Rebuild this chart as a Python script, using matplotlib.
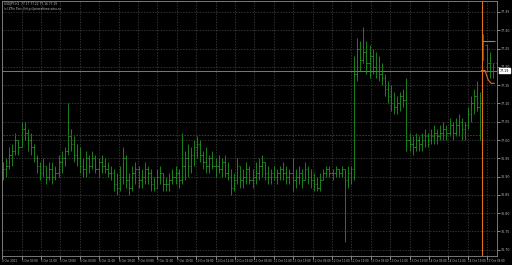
import matplotlib
matplotlib.use("Agg")
import matplotlib.pyplot as plt
import numpy as np

# OHLC bars (open = previous close)
highs = [
    76.94, 76.95, 76.98, 76.99,
    77.02, 77.00, 77.05, 77.05,
    77.03, 77.02,
    76.99, 76.96, 76.94,
    76.95, 76.93, 76.94, 76.94, 76.93, 76.96, 76.97,
    76.98, 77.10, 77.03,
    77.01, 76.99, 76.98,
    76.95, 76.97, 76.96, 76.97, 76.96, 76.95, 76.96, 76.95, 76.94, 76.93,
    76.92, 76.91, 76.93, 76.98, 76.96, 76.91, 76.93, 76.94, 76.93,
    76.92, 76.94, 76.93, 76.92, 76.90, 76.92, 76.93, 76.91, 76.90, 76.91,
    76.92, 76.93, 76.92, 77.02,
    76.97, 76.99, 76.98, 77.00, 77.01, 77.00,
    76.97, 76.98, 76.96, 76.97, 76.95, 76.96, 76.95, 76.96, 76.94,
    76.92, 76.91,
    76.95, 76.93, 76.92, 76.94, 76.93, 76.92, 76.94, 76.95, 76.96, 76.94, 76.93,
    76.92, 76.93, 76.92, 76.93, 76.94, 76.93, 76.92, 76.95, 76.92, 76.93, 76.92,
    76.94, 76.93, 76.92, 76.91, 76.90, 76.91,
    76.92, 76.93, 76.93, 76.92, 76.93, 76.92, 76.93,
    76.92, 76.93, 76.93, 77.23,
    77.28, 77.27, 77.31, 77.27, 77.26, 77.25,
    77.24, 77.23, 77.21,
    77.18, 77.16, 77.15, 77.13, 77.12,
    77.13, 77.14, 77.17,
    77.02, 77.01, 77.02, 77.01, 77.02, 77.03, 77.02,
    77.03, 77.04, 77.03, 77.04, 77.05, 77.04, 77.06, 77.05, 77.06, 77.07,
    77.06, 77.05,
    77.09, 77.12, 77.14, 77.16,
    77.13, 77.29, 77.26, 77.24, 77.21,
]
lows = [
    76.89, 76.90, 76.92, 76.93,
    76.96, 76.96, 76.98, 77.00,
    76.97, 76.96,
    76.94, 76.91, 76.89,
    76.90, 76.88, 76.89, 76.88, 76.89, 76.90, 76.91,
    76.93, 76.96, 76.97,
    76.94, 76.93, 76.91,
    76.90, 76.90, 76.91, 76.92, 76.91, 76.90, 76.91, 76.91, 76.90, 76.89,
    76.86, 76.85, 76.86, 76.88, 76.87, 76.85, 76.86, 76.88, 76.87,
    76.87, 76.88, 76.88, 76.86, 76.86, 76.87, 76.88, 76.86, 76.86, 76.86,
    76.88, 76.88, 76.87, 76.88,
    76.89, 76.90, 76.91, 76.93, 76.95, 76.94,
    76.92, 76.91, 76.91, 76.92, 76.90, 76.91, 76.90, 76.90, 76.89,
    76.85, 76.86,
    76.88, 76.87, 76.87, 76.88, 76.88, 76.87, 76.88, 76.89, 76.90, 76.89, 76.88,
    76.88, 76.89, 76.88, 76.89, 76.89, 76.88, 76.88, 76.86, 76.87, 76.88, 76.87,
    76.89, 76.88, 76.87, 76.86, 76.86, 76.86,
    76.89, 76.90, 76.90, 76.89, 76.90, 76.90, 76.90,
    76.72, 76.87, 76.88, 76.89,
    77.16, 77.19, 77.21, 77.18, 77.17, 77.18,
    77.17, 77.16, 77.15,
    77.12, 77.10, 77.08, 77.07, 77.07,
    77.08, 77.09, 76.97,
    76.97, 76.96, 76.97, 76.97, 76.97, 76.98, 76.98,
    76.99, 76.99, 76.99, 77.00, 77.00, 77.00, 77.01, 77.00, 77.01, 77.01,
    77.00, 77.00,
    77.03, 77.05, 77.07, 77.08,
    77.00, 77.22, 77.19, 77.17, 77.17,
]
closes = [
    76.92, 76.93, 76.96, 76.97,
    77.00, 76.98, 77.03, 77.02,
    77.00, 76.98,
    76.95, 76.93, 76.91,
    76.93, 76.90, 76.92, 76.90, 76.91, 76.94, 76.95,
    76.97, 77.01, 76.99,
    76.96, 76.95, 76.93,
    76.92, 76.95, 76.93, 76.95, 76.92, 76.94, 76.93, 76.92, 76.91, 76.91,
    76.88, 76.87, 76.90, 76.95, 76.89, 76.87, 76.91, 76.92, 76.89,
    76.90, 76.92, 76.91, 76.88, 76.87, 76.90, 76.91, 76.88, 76.88, 76.89,
    76.90, 76.91, 76.89, 76.93,
    76.95, 76.93, 76.96, 76.98, 76.99, 76.96,
    76.94, 76.93, 76.95, 76.93, 76.93, 76.92, 76.94, 76.91, 76.90,
    76.87, 76.89,
    76.93, 76.89, 76.90, 76.92, 76.89, 76.90, 76.91, 76.93, 76.94, 76.91, 76.90,
    76.91, 76.90, 76.91, 76.92, 76.91, 76.90, 76.91, 76.89, 76.90, 76.91, 76.89,
    76.92, 76.90, 76.89, 76.88, 76.87, 76.89,
    76.91, 76.92, 76.91, 76.91, 76.92, 76.91, 76.92,
    76.89, 76.91, 76.92, 77.18,
    77.25, 77.22, 77.24, 77.21, 77.23, 77.20,
    77.19, 77.18, 77.17,
    77.14, 77.12, 77.10, 77.09, 77.10,
    77.12, 77.11, 77.00,
    76.99, 76.98, 77.00, 76.99, 77.00, 77.01, 77.00,
    77.01, 77.02, 77.01, 77.02, 77.03, 77.02, 77.04, 77.02, 77.04, 77.05,
    77.03, 77.04,
    77.07, 77.10, 77.12, 77.09,
    77.10, 77.27, 77.21, 77.19, 77.19,
]
first_open = 76.91

price_ticks = [76.70, 76.75, 76.80, 76.85, 76.90, 76.95, 77.00,
               77.05, 77.10, 77.15, 77.20, 77.25, 77.30, 77.35]
date_labels = [
    "4 Oct 2011", "5 Oct 03:00", "5 Oct 11:00", "5 Oct 19:00", "6 Oct 03:00",
    "6 Oct 11:00", "6 Oct 19:00", "7 Oct 03:00", "7 Oct 11:00", "7 Oct 19:00",
    "10 Oct 03:00", "10 Oct 11:00", "10 Oct 19:00", "11 Oct 03:00",
    "11 Oct 11:00", "11 Oct 19:00", "12 Oct 03:00", "12 Oct 11:00",
    "12 Oct 19:00", "13 Oct 03:00", "13 Oct 11:00", "13 Oct 19:00",
    "14 Oct 03:00", "14 Oct 11:00", "14 Oct 19:00", "17 Oct 03:00",
]
header = ["USDJPY,H4  77.17 77.22 77.16 77.19",
          "(c) ZPin Pins | http://prorealtime.wins.ru"]

current_price = 77.19
pivot_level = 77.015
separator_bar = 155.4
target_level = 77.27
stop_level = 77.21
signal_bars = [155.4, 156.5, 157.5, 158.5, 159.5]
signal_line = [77.19, 77.19, 77.165, 77.155, 77.155]

bar_color = "#1e961e"
orange = "#e0701e"
dark_red = "#8a2a18"
text_color = "#c0c0c0"

fig = plt.figure(figsize=(5.12, 2.65), dpi=100, facecolor="black")
ax = fig.add_axes([2 / 512, 9 / 265, 495 / 512, 255 / 265], facecolor="black")

x = np.arange(len(highs))
opens = np.clip(np.r_[first_open, closes[:-1]], lows, highs)
ax.vlines(x, lows, highs, color=bar_color, lw=0.6)
ax.hlines(opens, x - 0.45, x, color=bar_color, lw=0.6)
ax.hlines(closes, x, x + 0.45, color=bar_color, lw=0.6)

# levels and markers
ax.axhline(current_price, color="#8c8c8c", lw=0.6, zorder=1)
ax.hlines(pivot_level, -1, separator_bar, color=dark_red, lw=0.6,
          linestyle=(0, (2, 1.5)))
ax.hlines(stop_level, 157, 161, color=dark_red, lw=0.6, linestyle=(0, (2, 1.5)))
ax.axvline(separator_bar, color=orange, lw=0.8)
ax.hlines(target_level, separator_bar, 159.8, color=orange, lw=0.8)
ax.plot(signal_bars, signal_line, color=orange, lw=0.8)

ax.set_xlim(-0.35, 160.4)
ax.set_ylim(76.683, 77.380)

ax.yaxis.tick_right()
ax.set_yticks(price_ticks)
ax.set_yticklabels([f"{v:.2f}" for v in price_ticks])
ax.tick_params(axis="y", colors=text_color, labelsize=2.3, length=2,
               width=0.5, pad=1)

ax.set_xticks(np.arange(len(date_labels)) * 6.3 - 0.3)
ax.set_xticklabels(date_labels, ha="left")
ax.tick_params(axis="x", colors=text_color, labelsize=2.0, length=2,
               width=0.5, pad=0.5)

ax.set_axisbelow(True)
ax.grid(True, color="#464646", lw=0.5, linestyle=(0, (2, 2)))
for s in ax.spines.values():
    s.set_color("#8a8a8a")
    s.set_linewidth(0.6)

ax.text(1.005, current_price, f"{current_price:.2f}", transform=ax.get_yaxis_transform(),
        fontsize=2.3, color="black", va="center", ha="left",
        bbox=dict(facecolor="white", edgecolor="white", pad=0.6))

for k, line in enumerate(header):
    fig.text(4 / 512, 1 - (2 + 5 * k) / 265, line, fontsize=2.1,
             color=text_color, va="top", ha="left")

fig.savefig("out.png", dpi=100, facecolor="black")
